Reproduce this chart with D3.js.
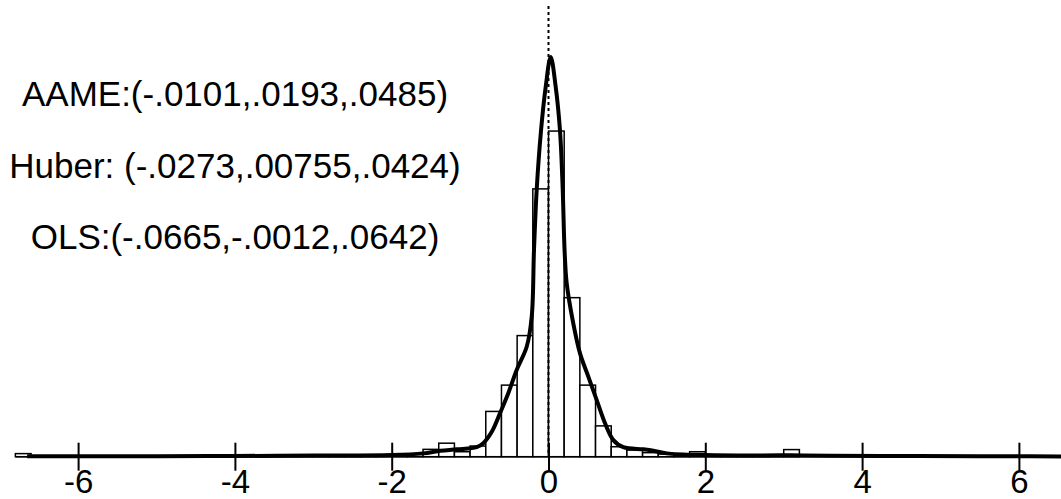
<!DOCTYPE html>
<html>
<head>
<meta charset="utf-8">
<script src="https://d3js.org/d3.v7.min.js"></script>
<style>
  body { margin: 0; background: #fff; }
  text { font-family: "Liberation Sans", Arial, sans-serif; }
</style>
</head>
<body>
<svg id="chart" width="1061" height="499"></svg>
<script>
// histogram bins (left edge, width .2) and density heights
const binLeft = [-6.8, -4.6, -4.4, -4.2, -4.0, -3.8, -3.6, -3.4, -3.2, -3.0, -2.8, -2.6, -2.4, -2.2,
  -2.0, -1.8, -1.6, -1.4, -1.2, -1.0, -0.8, -0.6, -0.4, -0.2, 0.0, 0.2, 0.4, 0.6, 0.8,
  1.0, 1.2, 1.4, 1.6, 1.8, 2.0, 2.2, 2.4, 2.6, 2.8, 3.0];
const binDens = [0.013, 0.002, 0.002, 0.002, 0.002, 0.002, 0.002, 0.002, 0.004, 0.004, 0.004, 0.004, 0.004, 0.004,
  0.007, 0.012, 0.031, 0.057, 0.021, 0.045, 0.191, 0.302, 0.511, 1.13, 1.374, 0.671, 0.302, 0.13, 0.042,
  0.028, 0.017, 0.011, 0.008, 0.021, 0.003, 0.003, 0.003, 0.003, 0.003, 0.03];
const binWidth = 0.2;

// kernel density curve
const densX = [-6.65, -5, -4, -3, -2.0, -1.6, -1.38, -1.17, -0.916, -0.832, -0.724, -0.619, -0.513, -0.406,
  -0.278, -0.214, -0.185, -0.15, -0.096, -0.036, 0.028, 0.092, 0.147, 0.181, 0.205, 0.232, 0.316, 0.402,
  0.508, 0.615, 0.721, 0.827, 0.954, 1.21, 1.34, 1.51, 2.01, 2.6, 3.1, 3.6, 4.5, 5.5, 7];
const densY = [0.002, 0.002, 0.003, 0.005, 0.007, 0.014, 0.025, 0.031, 0.040, 0.057, 0.105, 0.183, 0.268, 0.366,
  0.464, 0.591, 0.872, 1.13, 1.374, 1.56, 1.687, 1.56, 1.374, 1.13, 0.872, 0.732, 0.563, 0.436,
  0.338, 0.239, 0.141, 0.070, 0.040, 0.031, 0.025, 0.014, 0.007, 0.005, 0.006, 0.004, 0.003, 0.002, 0.001];

const xTicks = [-6, -4, -2, 0, 2, 4, 6];
const notes = ["AAME:(-.0101,.0193,.0485)", "Huber: (-.0273,.00755,.0424)", "OLS:(-.0665,-.0012,.0642)"];

let svg = d3.select("#chart");
let base = 456.7;

let x = d3.scaleLinear().domain([-7, 7]).range([-0.3, 1097.3]);
let y = d3.scaleLinear().domain([0, 1.8]).range([base, base - 1.8 * 237]);

// bars
svg.selectAll(".bar")
    .data(binLeft)
    .enter().append("rect")
    .attr("class", "bar")
    .attr("x", function (d) { return x(d); })
    .attr("width", function (d) { return x(d + binWidth) - x(d); })
    .attr("y", function (d, i) { return y(binDens[i]); })
    .attr("height", function (d, i) { return base - y(binDens[i]); })
    .style("fill", "white")
    .style("stroke", "black")
    .style("stroke-width", 1.5);

// axis line
svg.append("line")
    .attr("x1", x(-6.8)).attr("x2", 1061)
    .attr("y1", base).attr("y2", base)
    .style("stroke", "black").style("stroke-width", 1.5);

// dotted reference at zero
svg.append("line")
    .attr("x1", x(0)).attr("x2", x(0))
    .attr("y1", 6).attr("y2", base)
    .style("stroke", "black").style("stroke-width", 2)
    .style("stroke-dasharray", "3,3");

// density curve
let line = d3.line()
    .x(function (d, i) { return x(d); })
    .y(function (d, i) { return y(densY[i]); })
    .curve(d3.curveCatmullRom.alpha(0.5));

svg.append("path")
    .attr("d", line(densX))
    .style("fill", "none")
    .style("stroke", "black")
    .style("stroke-width", 4)
    .style("stroke-linejoin", "round");

// x axis
let ax = svg.append("g")
    .attr("transform", "translate(0," + base + ")")
    .call(d3.axisBottom(x).tickValues(xTicks).tickFormat(function (d) { return String(d); }));
ax.select(".domain").remove();
ax.selectAll(".tick line")
    .attr("y1", -14).attr("y2", 14)
    .style("stroke", "black").style("stroke-width", 2);
ax.selectAll(".tick text")
    .attr("y", 36).attr("dy", null)
    .attr("font-size", "33px")
    .style("font-family", "'Liberation Sans', Arial, sans-serif")
    .style("fill", "black");

// annotations
svg.selectAll(".note")
    .data(notes)
    .enter().append("text")
    .attr("class", "note")
    .attr("x", 235)
    .attr("y", function (d, i) { return 106 + i * 71.5; })
    .attr("text-anchor", "middle")
    .attr("font-size", "35px")
    .style("fill", "black")
    .text(function (d) { return d; });
</script>
</body>
</html>
